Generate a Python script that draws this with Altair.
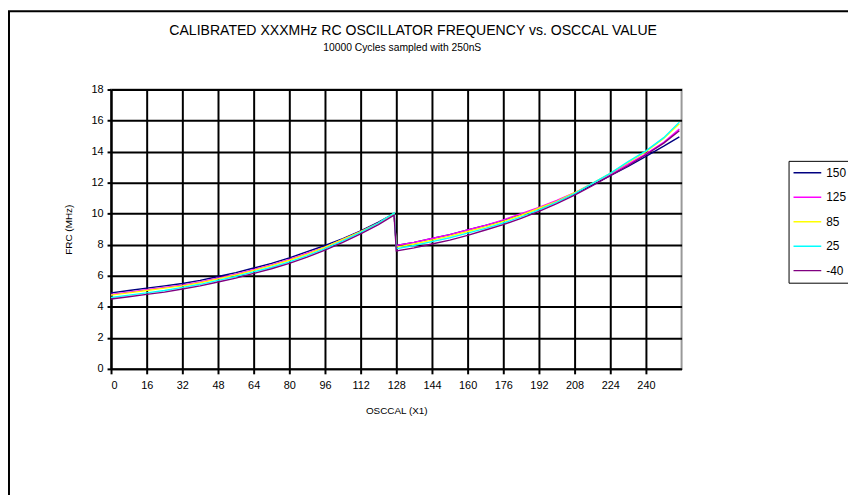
import altair as alt
import pandas as pd

# OSCCAL sample positions
osccal = [0, 8, 16, 24, 32, 40, 48, 56, 64, 72, 80, 88, 96, 104, 112, 120, 127,
          128, 136, 144, 152, 160, 168, 176, 184, 192, 200, 208, 216, 224, 232, 240, 248, 255]

# Frequency (MHz) per temperature series
f_150 = [4.90, 5.05, 5.20, 5.35, 5.50, 5.70, 5.95, 6.20, 6.50, 6.80, 7.15, 7.55, 7.95, 8.40, 8.90, 9.45, 10.00,
         7.95, 8.15, 8.40, 8.65, 8.95, 9.25, 9.55, 9.95, 10.35, 10.80, 11.30, 11.85, 12.45, 13.05, 13.70, 14.35, 14.95]
f_125 = [4.80, 4.95, 5.10, 5.25, 5.40, 5.60, 5.85, 6.10, 6.40, 6.70, 7.05, 7.45, 7.85, 8.35, 8.85, 9.40, 9.98,
         7.95, 8.15, 8.40, 8.65, 8.95, 9.25, 9.60, 10.00, 10.40, 10.85, 11.35, 11.95, 12.55, 13.20, 13.85, 14.60, 15.45]
f_85 = [4.75, 4.90, 5.05, 5.20, 5.35, 5.55, 5.80, 6.05, 6.35, 6.65, 7.00, 7.40, 7.85, 8.35, 8.85, 9.40, 10.02,
        7.85, 8.05, 8.30, 8.55, 8.85, 9.15, 9.50, 9.90, 10.35, 10.80, 11.35, 11.95, 12.60, 13.30, 14.00, 14.85, 15.80]
f_25 = [4.60, 4.75, 4.90, 5.05, 5.25, 5.45, 5.70, 5.95, 6.25, 6.55, 6.90, 7.30, 7.75, 8.25, 8.80, 9.40, 10.05,
        7.75, 7.95, 8.20, 8.45, 8.75, 9.05, 9.40, 9.80, 10.25, 10.75, 11.30, 11.95, 12.60, 13.35, 14.05, 14.90, 15.90]
f_m40 = [4.50, 4.65, 4.80, 4.95, 5.15, 5.35, 5.60, 5.85, 6.15, 6.45, 6.80, 7.20, 7.65, 8.15, 8.70, 9.30, 9.90,
         7.60, 7.80, 8.05, 8.30, 8.60, 8.95, 9.30, 9.70, 10.15, 10.65, 11.20, 11.80, 12.45, 13.10, 13.80, 14.55, 15.35]

series_names = ["150", "125", "85", "25", "-40"]
series_values = [f_150, f_125, f_85, f_25, f_m40]
series_colors = ["#000080", "#FF00FF", "#FFFF00", "#00FFFF", "#800080"]

x_ticks = list(range(0, 241, 16))
y_ticks = list(range(0, 19, 2))

title_text = "CALIBRATED XXXMHz  RC OSCILLATOR FREQUENCY vs. OSCCAL VALUE"
subtitle_text = "10000 Cycles sampled with 250nS"

rows = []
for name, vals in zip(series_names, series_values):
    for x, v in zip(osccal, vals):
        rows.append({"OSCCAL": x, "F": v, "T": name})
df = pd.DataFrame(rows)

FONT = "Liberation Sans"

lines = alt.Chart(df).mark_line(strokeWidth=1.4, clip=True).encode(
    x=alt.X("OSCCAL:Q",
            scale=alt.Scale(domain=[0, 256], nice=False),
            axis=alt.Axis(values=x_ticks, title="OSCCAL (X1)", grid=True,
                          gridColor="#000000", gridWidth=2, gridOpacity=1,
                          domainColor="#000000", domainWidth=2,
                          tickColor="#000000", tickWidth=2, tickSize=5,
                          labelFont=FONT, labelFontSize=11, labelPadding=6,
                          labelColor="#000000",
                          titleFont=FONT, titleFontSize=10, titleFontWeight="normal",
                          titleColor="#000000", titlePadding=15)),
    y=alt.Y("F:Q",
            scale=alt.Scale(domain=[0, 18], nice=False),
            axis=alt.Axis(values=y_ticks, title="FRC (MHz)", grid=True,
                          gridColor="#000000", gridWidth=2, gridOpacity=1,
                          domainColor="#000000", domainWidth=2,
                          tickColor="#000000", tickWidth=2, tickSize=4,
                          labelFont=FONT, labelFontSize=11, labelPadding=4,
                          labelColor="#000000",
                          titleFont=FONT, titleFontSize=10, titleFontWeight="normal",
                          titleColor="#000000", titleX=-38, titleY=141)),
    color=alt.Color("T:N",
                    scale=alt.Scale(domain=series_names, range=series_colors),
                    legend=alt.Legend(title=None, orient="none", legendX=684, legendY=72,
                                      symbolType="stroke", symbolSize=784,
                                      symbolStrokeWidth=1.5, clipHeight=16,
                                      labelFont=FONT, labelFontSize=12, labelColor="#000000",
                                      strokeColor="#000000", padding=4,
                                      rowPadding=8.7, labelOffset=4)),
    order=alt.Order("OSCCAL:Q"),
)

titles = alt.Chart(pd.DataFrame({"t": [title_text]})).mark_text(
    font=FONT, fontSize=14.2, color="#000000", align="center", baseline="alphabetic"
).encode(text="t:N", x=alt.value(305), y=alt.value(-55))

subtitles = alt.Chart(pd.DataFrame({"t": [subtitle_text]})).mark_text(
    font=FONT, fontSize=10.4, color="#000000", align="center", baseline="alphabetic"
).encode(text="t:N", x=alt.value(294), y=alt.value(-39))

frame = alt.Chart(pd.DataFrame({"a": [0]})).mark_rect(
    fill=None, stroke="#000000", strokeWidth=2, clip=False
).encode(
    x=alt.value(-103), x2=alt.value(760), y=alt.value(-79), y2=alt.value(500)
)

chart = alt.layer(lines, titles, subtitles, frame).properties(
    width=576, height=282,
    autosize=alt.AutoSizeParams(type="none"),
    padding={"left": 104, "top": 80, "right": 168, "bottom": 125},
).configure_view(stroke="#999999", strokeWidth=2)

chart.save("out.html", embed_options={"renderer": "svg", "actions": False})
